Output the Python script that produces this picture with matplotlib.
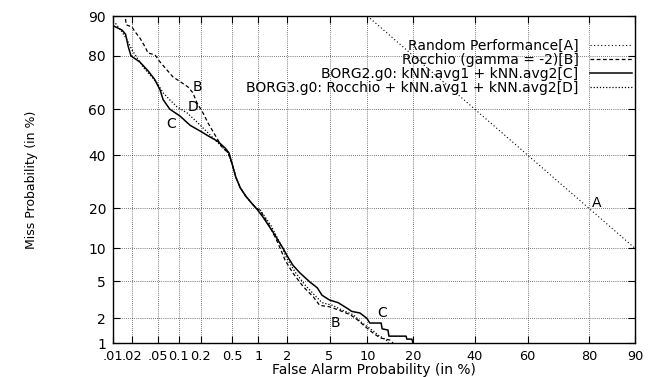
import numpy as np
import matplotlib
matplotlib.use('Agg')
import matplotlib.pyplot as plt
from statistics import NormalDist

# DET curve values, in percent (false alarm, miss)
random_fa = [10, 90]
random_miss = [90, 10]

rocchio_fa = [0.016, 0.0163, 0.0202, 0.0226, 0.027, 0.0322, 0.0357, 0.0455, 0.054, 0.068,
              0.083, 0.111, 0.1345, 0.157, 0.178, 0.214, 0.249, 0.305, 0.374, 0.444,
              0.5, 0.55, 0.62, 0.72, 0.85, 0.95, 1.04, 1.34, 1.62, 1.92,
              2.3, 2.9, 3.6, 4.1, 5.0, 5.9, 7.4, 8.5, 9.6, 11.0, 12.3, 14.3, 15.0]
rocchio_miss = [89.4, 88.2, 87.7, 86.6, 85, 82.7, 80.9, 80.3, 78.1, 75.4,
                72.9, 70.7, 69.1, 66.8, 62.7, 58.4, 54, 48.8, 43.5, 41,
                36, 31, 27, 24, 21.5, 20, 19.5, 14.8, 11.1, 7.9,
                6.0, 4.4, 3.45, 2.8, 2.7, 2.5, 2.2, 1.9, 1.6, 1.33, 1.16, 1.09, 1.0]

borg2_fa = [0.01, 0.014, 0.016, 0.0175, 0.0195, 0.027, 0.036, 0.045, 0.054, 0.06,
            0.075, 0.105, 0.144, 0.196, 0.26, 0.33, 0.41, 0.455, 0.5, 0.55,
            0.62, 0.72, 0.85, 0.95, 1.12, 1.44, 1.83, 2.05, 2.3, 2.7,
            3.35, 3.9, 4.3, 5.0, 5.9, 7.0, 7.6, 8.8, 9.9, 10.4,
            12.5, 12.7, 13.9, 14.1, 18.1, 18.3, 19.6, 19.9]
borg2_miss = [88, 87, 86, 83, 80, 78, 75, 72, 68, 64,
              60, 57, 53, 50.5, 48, 46, 43, 41, 36, 31,
              27, 24, 21.5, 20, 17.5, 13.5, 10, 8.4, 7.1, 6,
              4.9, 4.3, 3.6, 3.2, 3.0, 2.6, 2.4, 2.3, 2.0, 1.76,
              1.76, 1.5, 1.45, 1.22, 1.22, 1.12, 1.12, 1.0]

borg3_fa = [0.011, 0.014, 0.0169, 0.0202, 0.0243, 0.03, 0.0383, 0.0487, 0.06, 0.075,
            0.095, 0.131, 0.178, 0.227, 0.288, 0.374, 0.444, 0.5, 0.55, 0.62,
            0.72, 0.85, 0.95, 1.05, 1.38, 1.68, 2.0, 2.4, 3.0, 3.7,
            4.3, 5.3, 6.3, 7.8, 9.0, 10.5, 12.0, 13.5, 14.0]
borg3_miss = [88.5, 86.6, 84.6, 81.8, 79.4, 76.4, 73.6, 70.7, 66.8, 63.9,
              61, 58.4, 54.5, 51, 47.5, 43.5, 41, 36, 31, 27,
              24, 21.5, 20, 19.5, 15, 11.3, 8.2, 6.2, 4.6, 3.6,
              3.0, 2.8, 2.5, 2.2, 1.8, 1.5, 1.25, 1.1, 1.0]

x_ticks = [0.01, 0.02, 0.05, 0.1, 0.2, 0.5, 1, 2, 5, 10, 20, 40, 60, 80, 90]
x_ticklabels = ['.01', '.02', '.05', '0.1', '0.2', '0.5', '1', '2', '5', '10', '20', '40', '60', '80', '90']
y_ticks = [1, 2, 5, 10, 20, 40, 60, 80, 90]
y_ticklabels = ['1', '2', '5', '10', '20', '40', '60', '80', '90']

curve_letters = ['A', 'B', 'D', 'C', 'B', 'C']
letter_fa = [82, 0.18, 0.157, 0.078, 5.56, 12.7]
letter_miss = [21.7, 69, 61, 53.6, 1.76, 2.3]

_nd = NormalDist()
_ppf = np.vectorize(_nd.inv_cdf, otypes=[float])
_cdf = np.vectorize(_nd.cdf, otypes=[float])


def to_dev(p):
    p = np.clip(np.asarray(p, dtype=float) / 100.0, 1e-9, 1 - 1e-9)
    return _ppf(p)


def from_dev(z):
    return _cdf(np.asarray(z, dtype=float)) * 100.0


plt.rcParams.update({
    'font.family': 'DejaVu Sans',
    'font.size': 10,
})

fig = plt.figure(figsize=(6.55, 3.77), dpi=100)
ax = fig.add_axes([113/655, 1 - 343/377, 522/655, 327/377])
ax.set_xscale('function', functions=(to_dev, from_dev))
ax.set_yscale('function', functions=(to_dev, from_dev))

ax.plot(random_fa, random_miss, color='black', linestyle=(0, (1, 2.2)), linewidth=0.8,
        label='Random Performance[A]')
ax.plot(rocchio_fa, rocchio_miss, color='black', linestyle=(0, (3, 2)), linewidth=0.9,
        label='Rocchio (gamma = -2)[B]')
ax.plot(borg2_fa, borg2_miss, color='black', linestyle='solid', linewidth=1.1,
        label='BORG2.g0: kNN.avg1 + kNN.avg2[C]')
ax.plot(borg3_fa, borg3_miss, color='black', linestyle=(0, (1, 1.5)), linewidth=0.9,
        label='BORG3.g0: Rocchio + kNN.avg1 + kNN.avg2[D]')

for letter, fa, miss in zip(curve_letters, letter_fa, letter_miss):
    ax.text(fa, miss, letter, ha='center', va='center', fontsize=10)

ax.set_xlim(0.01, 90)
ax.set_ylim(1, 90)
ax.set_xticks(x_ticks)
ax.set_xticklabels(x_ticklabels)
ax.set_yticks(y_ticks)
ax.set_yticklabels(y_ticklabels)
ax.minorticks_off()
ax.tick_params(direction='in', top=True, right=True, length=5, width=0.8,
               labelsize=10, pad=5)
ax.tick_params(axis='x', labelsize=9.3)
ax.grid(True, linestyle=(0, (1, 2)), color='black', linewidth=0.5)
for s in ax.spines.values():
    s.set_linewidth(1.0)

ax.set_xlabel('False Alarm Probability (in %)', labelpad=0)
fig.text(32/655, 1 - 180/377, 'Miss Probability (in %)', rotation=90,
         ha='center', va='center', fontsize=9)

ax.legend(loc='upper right', bbox_to_anchor=(632/655, 1 - 39/377),
          bbox_transform=fig.transFigure, frameon=False, markerfirst=False,
          borderpad=0, borderaxespad=0, handlelength=3.0, handletextpad=0.85,
          labelspacing=0.0, fontsize=10)

fig.savefig('out.png', dpi=100)
